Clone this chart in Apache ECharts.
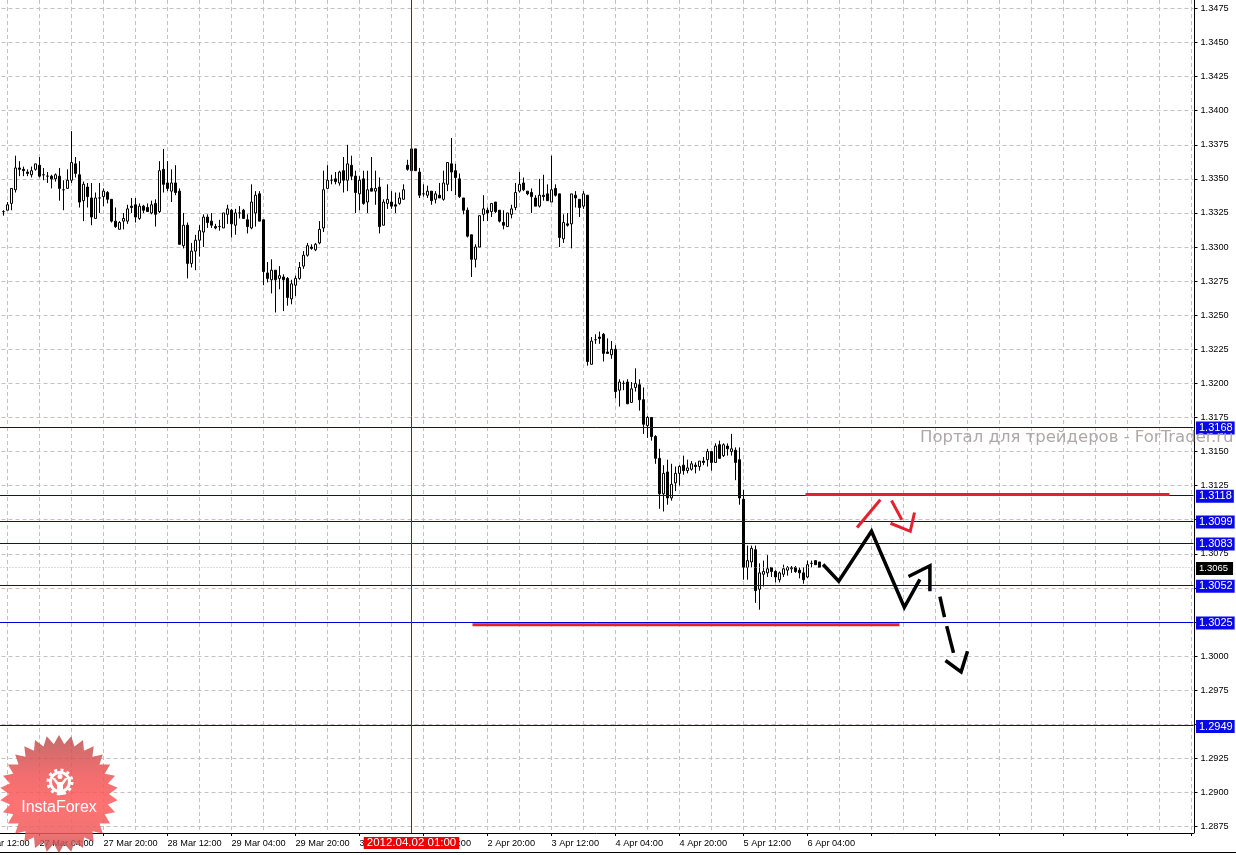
<!DOCTYPE html>
<html><head><meta charset="utf-8">
<style>html,body{margin:0;padding:0;background:#fff;overflow:hidden}#c{width:1236px;height:855px}</style>
<script src="https://cdn.jsdelivr.net/npm/echarts@6/dist/echarts.min.js"></script>
</head><body><div id="c"></div>
<script>
// prices in 1/10000 units, hourly EUR/USD bars
const opens = [
13326,13327,13332,13342,13358,13357,13355,13353,13357,13360,
13353,13352,13352,13350,13352,13342,13343,13349,13361,13353,
13334,13344,13336,13321,13336,13337,13340,13335,13319,13313,
13319,13319,13330,13331,13321,13330,13329,13325,13332,13326,
13357,13347,13341,13347,13341,13301,13316,13288,13297,13305,
13311,13322,13319,13315,13315,13314,13324,13327,13316,13325,
13327,13320,13314,13325,13339,13320,13281,13276,13283,13277,
13278,13277,13262,13272,13277,13286,13294,13300,13298,13303,
13314,13343,13349,13350,13347,13356,13349,13360,13352,13339,
13350,13333,13343,13341,13344,13316,13332,13333,13331,13332,
13335,13360,13356,13372,13355,13339,13338,13341,13335,13338,
13335,13346,13361,13356,13350,13336,13327,13309,13291,13300,
13324,13327,13326,13333,13327,13318,13315,13324,13329,13341,
13347,13341,13340,13336,13330,13338,13339,13333,13343,13339,
13306,13317,13317,13338,13335,13330,13338,13214,13232,13234,
13236,13223,13221,13225,13195,13200,13201,13186,13197,13199,
13188,13169,13175,13161,13145,13119,13135,13116,13127,13134,
13140,13136,13137,13140,13139,13143,13144,13150,13142,13155,
13147,13154,13150,13151,13144,13115,13065,13069,13078,13049,
13060,13061,13065,13062,13056,13060,13063,13064,13065,13063,
13061,13058,13068,13070,13069];
const closes = [
13326,13331,13343,13358,13357,13356,13354,13356,13361,13352,
13353,13352,13350,13353,13343,13342,13349,13362,13354,13333,
13346,13337,13322,13336,13336,13341,13335,13319,13315,13318,
13321,13328,13329,13322,13330,13327,13326,13331,13324,13356,
13346,13343,13347,13340,13302,13316,13288,13297,13305,13312,
13322,13318,13316,13314,13315,13325,13328,13317,13325,13325,
13321,13315,13333,13338,13319,13282,13277,13283,13276,13279,
13276,13263,13273,13277,13285,13294,13301,13299,13302,13313,
13342,13349,13349,13348,13355,13349,13361,13352,13340,13349,
13332,13342,13341,13343,13315,13333,13335,13330,13330,13336,
13342,13357,13372,13356,13338,13339,13341,13334,13339,13336,
13347,13362,13355,13351,13337,13327,13308,13291,13300,13323,
13328,13325,13332,13326,13319,13316,13325,13328,13340,13346,
13342,13339,13337,13330,13338,13337,13334,13342,13338,13307,
13318,13316,13339,13336,13329,13339,13216,13231,13232,13233,
13222,13222,13225,13194,13201,13200,13185,13196,13200,13188,
13170,13175,13161,13145,13119,13134,13116,13126,13134,13139,
13136,13138,13141,13139,13143,13142,13150,13142,13154,13145,
13155,13152,13152,13142,13116,13065,13070,13079,13048,13061,
13062,13064,13062,13058,13061,13064,13065,13065,13062,13061,
13056,13067,13068,13067,13065];
const highs = [
13327,13333,13343,13367,13363,13359,13357,13359,13361,13366,
13358,13355,13353,13354,13358,13349,13357,13385,13366,13363,
13348,13347,13347,13340,13347,13343,13341,13335,13329,13319,
13325,13331,13336,13336,13332,13331,13332,13334,13335,13363,
13372,13363,13357,13360,13343,13325,13318,13303,13309,13316,
13324,13324,13325,13317,13320,13325,13331,13328,13328,13330,
13328,13324,13346,13341,13341,13320,13289,13291,13283,13286,
13280,13278,13276,13279,13289,13297,13303,13302,13303,13319,
13356,13360,13353,13355,13356,13366,13375,13367,13356,13352,
13356,13356,13366,13356,13351,13335,13346,13341,13340,13340,
13346,13364,13375,13372,13358,13346,13345,13341,13341,13347,
13356,13362,13380,13361,13354,13336,13329,13309,13302,13323,
13338,13329,13332,13333,13327,13327,13325,13331,13347,13355,
13351,13341,13343,13338,13350,13353,13346,13367,13346,13339,
13324,13325,13339,13341,13335,13341,13338,13234,13236,13238,
13237,13233,13231,13228,13203,13202,13203,13201,13211,13203,
13197,13176,13175,13162,13152,13140,13144,13141,13139,13140,
13147,13144,13143,13142,13143,13146,13152,13150,13156,13158,
13156,13156,13163,13153,13153,13122,13081,13081,13081,13068,
13070,13074,13065,13063,13062,13067,13066,13066,13066,13065,
13065,13070,13070,13070,13069];
const lows = [
13323,13327,13327,13340,13352,13352,13352,13351,13356,13351,
13349,13347,13343,13348,13334,13327,13343,13347,13351,13329,
13319,13329,13316,13321,13325,13330,13332,13318,13314,13313,
13313,13317,13325,13318,13320,13325,13326,13324,13315,13325,
13340,13341,13333,13338,13302,13299,13277,13285,13283,13293,
13300,13314,13314,13313,13312,13314,13317,13307,13309,13321,
13321,13310,13313,13315,13319,13272,13274,13266,13252,13269,
13253,13257,13258,13264,13276,13284,13293,13298,13297,13302,
13311,13343,13346,13346,13345,13340,13341,13349,13325,13327,
13331,13325,13341,13331,13310,13316,13328,13328,13325,13331,
13335,13356,13355,13356,13336,13337,13336,13331,13332,13336,
13334,13341,13341,13338,13336,13324,13307,13278,13285,13300,
13319,13319,13322,13325,13318,13313,13315,13321,13327,13340,
13341,13338,13325,13330,13329,13334,13334,13333,13337,13300,
13303,13315,13299,13329,13322,13328,13213,13214,13229,13229,
13216,13222,13218,13189,13183,13195,13185,13186,13194,13180,
13163,13160,13158,13141,13108,13106,13111,13114,13121,13125,
13133,13134,13136,13134,13136,13140,13139,13136,13142,13145,
13146,13147,13147,13129,13111,13056,13056,13065,13039,13034,
13051,13058,13058,13054,13054,13058,13059,13061,13061,13057,
13053,13057,13065,13067,13065];

const timeLabels = ['26 Mar 12:00','27 Mar 04:00','27 Mar 20:00','28 Mar 12:00','29 Mar 04:00','29 Mar 20:00','30 Mar 12:00','2 Apr 04:00','2 Apr 20:00','3 Apr 12:00','4 Apr 04:00','4 Apr 20:00','5 Apr 12:00','6 Apr 04:00'];
const priceTicks = [1.2875,1.29,1.2925,1.295,1.2975,1.3,1.3025,1.305,1.3075,1.31,1.3125,1.315,1.3175,1.32,1.3225,1.325,1.3275,1.33,1.3325,1.335,1.3375,1.34,1.3425,1.345,1.3475];
const levels = [1.3168,1.3118,1.3099,1.3083,1.3052,1.3025,1.2949];
const lastPrice = 1.3065;
const crosshairBar = 102;
const crosshairLabel = '2012.04.02 01:00';
const leadBars = 7;
const totalBars = 305;

// hand-drawn forecast strokes as [bar, price]
const blackStrokes = [
 [[204.9,1.30671],[208.8,1.30549],[217,1.30915],[225.2,1.30358],[229.1,1.30563]],
 [[226.25,1.30583],[231.6,1.30662],[231.6,1.30475]],
 [[234.1,1.30436],[235.25,1.30285]],
 [[235.8,1.30219],[237.5,1.30023]],
 [[235.5,1.29967],[239.4,1.29884],[241,1.30035]]
];
const redStrokes = [
 [[213.4,1.30943],[219.2,1.31146]],
 [[222,1.31141],[224.6,1.30999]],
 [[221.75,1.30974],[226.7,1.30915],[227.75,1.31053]],
 [[200.5,1.31185],[291.5,1.31185]],
 [[117.25,1.30229],[224,1.30229]]
];

const categories = [];
for (let i = 0; i < totalBars; i++) categories.push(i % 16 === 0 && timeLabels[i / 16] ? timeLabels[i / 16] : '');
const candles = [];
for (let i = 0; i < leadBars; i++) candles.push(['-','-','-','-']);
opens.forEach((o, i) => candles.push([o / 1e4, closes[i] / 1e4, lows[i] / 1e4, highs[i] / 1e4]));

const font = '"Liberation Sans", Arial, sans-serif';
const gridDash = {color:'#c6bfc6', type:[4,3], width:1};
const boxLabel = {show:true, position:'end', distance:2.5, offset:[0,1], color:'#fff', fontFamily:font, fontSize:11,
  backgroundColor:'#0808e8', padding:[1,2,1,3], lineHeight:11, formatter:p => p.value.toFixed(4)};

const levelLines = levels.map(v => ({yAxis:v}));
levelLines.push({yAxis:lastPrice, lineStyle:{color:'#b8b8b8', type:[1,2], width:1},
  label:{backgroundColor:'#000', color:'#fff', fontSize:9.5, padding:[2,5,1,3], lineHeight:10}});
levelLines.push({xAxis:crosshairBar + leadBars, lineStyle:{color:'#c00000', type:'solid', width:1},
  label:{position:'start', distance:4, offset:[0,0], backgroundColor:'#f00000', color:'#fff', fontSize:11.5, padding:[0,3,0,3], lineHeight:12, formatter:() => crosshairLabel}});

const strokeSeries = (list, color, width) => list.map(s => ({type:'line', xAxisIndex:1, yAxisIndex:0, data:s, symbol:'none', silent:true,
  lineStyle:{color, width, join:'miter', cap:'butt'}, clip:false, animation:false, z:5}));

// logo shapes
const starPts = [];
for (let i = 0; i < 60; i++) {
  const r = i % 2 ? 50 : 59, a = i * Math.PI / 30 - Math.PI / 2;
  starPts.push([59 + r * Math.cos(a), 794 + r * Math.sin(a)]);
}
const graphics = [
  {type:'line', shape:{x1:0,y1:852.5,x2:1236,y2:852.5}, style:{stroke:'#000',lineWidth:1}, z:1},
  {type:'polygon', shape:{points:starPts}, z:20, style:{fill:{type:'linear',x:0,y:0,x2:0,y2:1,colorStops:[
    {offset:0,color:'rgba(185,75,75,0.82)'},{offset:0.35,color:'rgba(240,85,85,0.85)'},{offset:0.6,color:'rgba(255,95,95,0.88)'},{offset:0.85,color:'rgba(235,90,90,0.85)'},{offset:1,color:'rgba(185,75,75,0.82)'}]}}},
  {type:'circle', shape:{cx:60,cy:782,r:9.5}, z:21, style:{fill:'transparent',stroke:'#fff',lineWidth:3}},
  {type:'circle', shape:{cx:60,cy:782,r:12}, z:21, style:{fill:'transparent',stroke:'#fff',lineWidth:3,lineDash:[3,3.3]}},
  {type:'circle', shape:{cx:60,cy:776.5,r:2.5}, z:21, style:{fill:'#fff'}},
  {type:'polygon', shape:{points:[[52,778],[55,778],[58,782],[62,782],[65,778],[68,778],[63,785],[63,795],[57,795],[57,785]]}, z:21, style:{fill:'#fff'}},
  {type:'text', x:59, y:808, z:22, style:{text:'InstaForex', fill:'#fff', font:'16px '+font, align:'center', verticalAlign:'middle'}},
  {type:'text', x:920, y:438, z:25, style:{text:'Портал для трейдеров - ForTrader.ru', fill:'#b0a8a8', font:'16.5px "DejaVu Sans"', align:'left', verticalAlign:'middle'}}
];

const chart = echarts.init(document.getElementById('c'), null, {renderer:'canvas'});
chart.setOption({
  animation:false,
  backgroundColor:'#fff',
  grid:{left:-26.5, width:1220, top:0, height:833, containLabel:false, outerBoundsMode:'none'},
  xAxis:[
    {type:'category', data:categories, boundaryGap:true,
     axisLine:{show:true, lineStyle:{color:'#000',width:1}},
     axisTick:{show:true, alignWithLabel:true, length:3, interval:i => i % 16 === 0, lineStyle:{color:'#000'}},
     axisLabel:{show:true, interval:i => i % 16 === 0, align:'left', color:'#000', fontFamily:font, fontSize:9.2, margin:6, hideOverlap:false},
     splitLine:{show:true, alignWithLabel:true, interval:i => i % 8 === 0, lineStyle:gridDash}},
    {type:'value', min:-leadBars - 0.5, max:totalBars - leadBars - 0.5, show:false, splitLine:{show:false}}
  ],
  yAxis:[{type:'value', position:'right', offset:1, min:1.28702, max:1.34812, scale:true,
     axisLine:{show:true, onZero:false, lineStyle:{color:'#000',width:1}},
     axisTick:{show:true, length:3, customValues:priceTicks, lineStyle:{color:'#000'}},
     axisLabel:{show:true, customValues:priceTicks, color:'#000', fontFamily:font, fontSize:9.2, margin:6, formatter:v => v.toFixed(4)},
     splitLine:{show:true, customValues:priceTicks, lineStyle:gridDash}}],
  series:[
    {type:'candlestick', xAxisIndex:0, yAxisIndex:0, data:candles, barWidth:2, clip:false, animation:false, z:3,
     itemStyle:{color:'#fff', color0:'#000', borderColor:'#000', borderColor0:'#000', borderWidth:1},
     markLine:{silent:true, symbol:'none', animation:false, precision:5, lineStyle:{color:'#0000d0', type:'solid', width:1}, label:boxLabel, data:levelLines}},
    ...strokeSeries(blackStrokes,'#000',3.5),
    ...strokeSeries(redStrokes,'#e6202e',3)
  ],
  graphic:graphics
});
</script></body></html>
